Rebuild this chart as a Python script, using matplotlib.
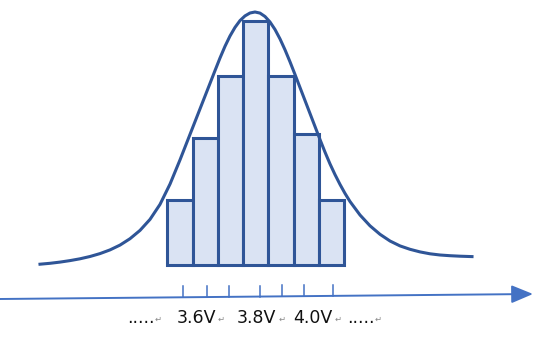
import numpy as np
import matplotlib
matplotlib.use("Agg")
import matplotlib.pyplot as plt

# histogram bins (diagram units, 1 unit = 1 px of the 540x340 canvas)
bin_edges = [166.5, 192.5, 218, 243, 268, 294, 319, 344]
counts = [65, 127, 189, 244, 189, 131, 65]
baseline = 75

curve_x = [40, 50, 60, 70, 80, 90, 100, 110, 120, 130, 140, 150, 160, 170,
           180, 190, 200, 210, 215, 220, 225, 230, 235, 240, 245, 250, 255,
           260, 265, 270, 275, 280, 285, 290, 295, 300, 305, 310, 315, 320,
           325, 330, 335, 340, 345, 350, 360, 370, 380, 390, 400, 410, 420,
           430, 440, 450, 460, 472]
curve_top = [264.2, 263.3, 262.1, 260.6, 258.8, 256.5, 253.6, 249.9, 245.1,
             238.7, 230.4, 219.4, 204.4, 184.1, 159.9, 134.4, 108.9, 83.4, 70.6,
             58.0, 46.3, 36.0, 27.4, 20.6, 15.9, 13.0, 12.0,
             13.1, 16.5, 22.0, 29.5, 38.9, 49.8, 61.8, 74.5, 87.5, 100.5, 113.5,
             126.5, 139.5, 152.1, 163.9, 174.6, 184.4, 193.4, 201.5, 215.0,
             225.8, 234.3, 241.0, 245.9, 249.3, 251.9, 253.8, 255.0, 255.7,
             256.2, 256.6]

# voltage axis
tick_x = [183, 207, 229, 260, 282, 304, 333]
labels = [".....", "3.6V", "3.8V", "4.0V", "....."]
label_x = [127, 177, 237, 293, 347]
mark_x = [155, 218, 279, 335, 375]

dark = "#2F5597"
fill = "#DAE3F3"
axis_col = "#4472C4"
H = 340

fig = plt.figure(figsize=(5.4, 3.4), dpi=100)
ax = fig.add_axes([0, 0, 1, 1])
ax.set_xlim(0, 540)
ax.set_ylim(0, H)
ax.axis("off")

edges = np.array(bin_edges)
ax.bar((edges[:-1] + edges[1:]) / 2, counts, width=np.diff(edges), bottom=baseline,
       color=fill, edgecolor=dark, linewidth=2.2, zorder=2)
ax.plot(curve_x, H - np.array(curve_top), color=dark, lw=2.2, zorder=3,
        solid_joinstyle="round")

# axis arrow, slightly tilted
x0, y0, x1, y1 = 0, 41, 533, 46
ax.annotate("", xy=(x1, y1), xytext=(x0, y0),
            arrowprops=dict(arrowstyle="-|>,head_length=0.6,head_width=0.25",
                            mutation_scale=22, lw=1.4, color=axis_col,
                            shrinkA=0, shrinkB=0))
for tx in tick_x:
    ty = y0 + (y1 - y0) * tx / x1
    ax.plot([tx, tx], [ty, ty + 11], color=axis_col, lw=1.1)

for lab, lx, mx in zip(labels, label_x, mark_x):
    ax.text(lx, 17, lab, fontsize=12.5, color="#111111", ha="left", va="baseline")
    ax.text(mx, 18, "\u21b5", fontsize=6, color="#888888", ha="left", va="baseline")

fig.savefig("out.png", dpi=100)
